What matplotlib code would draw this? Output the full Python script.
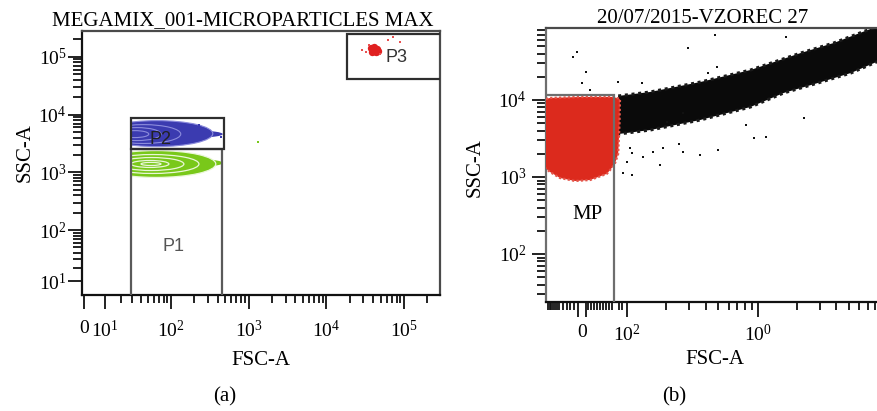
import numpy as np
import matplotlib
matplotlib.use('Agg')
import matplotlib.pyplot as plt
from matplotlib.patches import Ellipse, Rectangle

plt.rcParams['font.family'] = ['Liberation Serif', 'DejaVu Serif']
plt.rcParams['mathtext.fontset'] = 'custom'
plt.rcParams['mathtext.rm'] = 'Liberation Serif'
plt.rcParams['mathtext.it'] = 'Liberation Serif:italic'
plt.rcParams['mathtext.bf'] = 'Liberation Serif:bold'

# ---------------- texts ----------------
title_a = 'MEGAMIX_001-MICROPARTICLES MAX'
title_b = '20/07/2015-VZOREC 27'
x_label = 'FSC-A'
y_label = 'SSC-A'
panel_labels = ['(a)', '(b)']

# ---------------- panel (a) axis data ----------------
a_xlim = [-1, 290000]
a_ylim = [2, 280000]
a_xticks = [0, 10, 100, 1000, 10000, 100000]
a_xticklabels = ['0', r'$\mathregular{10^{1}}$', r'$\mathregular{10^{2}}$',
                 r'$\mathregular{10^{3}}$', r'$\mathregular{10^{4}}$', r'$\mathregular{10^{5}}$']
a_xminor = [m * 10 ** k for k in range(1, 6) for m in range(2, 10)]
a_yticks = [10, 100, 1000, 10000, 100000]
a_yticklabels = [r'$\mathregular{10^{1}}$', r'$\mathregular{10^{2}}$', r'$\mathregular{10^{3}}$',
                 r'$\mathregular{10^{4}}$', r'$\mathregular{10^{5}}$']
a_yminor = [m * 10 ** k for k in range(1, 6) for m in range(2, 10)]

# gates of panel (a)
gate_names_a = ['P1', 'P2', 'P3']
gate_x0_a = [29, 29, 18700]
gate_x1_a = [455, 480, 320000]
gate_y0_a = [1, 2500, 41700]
gate_y1_a = [2500, 8900, 250000]
gate_label_x_a = [109, 72, 80000]
gate_label_y_a = [52, 3650, 99000]

# P2 (blue) contour levels, outer -> inner
p2_ring_x0 = [8, 10.7, 14.8, 20.4]
p2_ring_x1 = [347, 134, 74, 51]
p2_ring_y0 = [2800, 3170, 3560, 4010]
p2_ring_y1 = [7880, 6720, 5970, 5290]
p2_tail_x = [100, 466]
p2_tail_y = [4010, 5290]
p2_dot_x = [60, 123, 230, 402, 439]
p2_dot_y = [6720, 6470, 6720, 4520, 4180]

# P1 (green) contour levels, outer -> inner
p1_ring_x0 = [5.6, 10.7, 18.9, 29, 40]
p1_ring_x1 = [379, 230, 147, 94, 74]
p1_ring_y0 = [820, 960, 1080, 1220, 1320]
p1_ring_y1 = [2390, 2040, 1810, 1610, 1490]
p1_tail_x = [134, 466]
p1_tail_y = [1270, 1676]
p1_dot_x = [1310]
p1_dot_y = [3420]

# P3 (red) beads
p3_core_x = [38000, 41500, 45300, 44000, 39100, 40300, 46700, 42000]
p3_core_y = [143000, 149000, 137000, 122000, 122000, 132000, 127000, 135000]
p3_spread_x = [29100, 32700, 62700, 72700, 89300, 35800, 49500]
p3_spread_y = [132000, 122000, 196000, 221000, 181000, 161000, 113000]

# ---------------- panel (b) axis data ----------------
b_xlim = [-80, 8230]
b_ylim = [23.8, 86000]
b_xticks = [-10, 0, 8, 100, 1000]
b_xticklabels = ['', '0', '', r'$\mathregular{10^{2}}$', r'$\mathregular{10^{0}}$']
b_xminor = [-76, -72, -68, -64, -60, -56, -52, -42, -33, -26, -19,
            14, 20, 27, 33, 40, 47, 53, 60, 67, 82, 89,
            200, 300, 400, 500, 600, 700, 800, 900,
            2000, 3000, 4000, 5000, 6000, 7000, 8000]
b_yticks = [100, 1000, 10000]
b_yticklabels = [r'$\mathregular{10^{2}}$', r'$\mathregular{10^{3}}$', r'$\mathregular{10^{4}}$']
b_yminor = [m * 10 ** k for k in range(1, 5) for m in range(2, 10)]

# MP gate
mp_gate_x = [-120, 71]
mp_gate_y = [1, 11620]
mp_label_x = 13
mp_label_y = 321

# black event band (outline)
band_x = [80, 150, 364, 883, 2140, 3840, 8830,
          8830, 5190, 2895, 1585, 883, 364, 150, 80]
band_y = [11270, 12700, 17100, 24500, 40700, 55000, 94200,
          33000, 22400, 16600, 12330, 8110, 5500, 4070, 3610]

# red gated microparticle cloud (outline)
mp_x = [-90, -71, -4.5, 69, 84, 83, 80, 72, 55, 18, -15.6, -49, -71, -90]
mp_y = [10000, 10620, 10940, 10940, 10300, 5000, 2000, 1450, 1100, 914, 887, 970, 1160, 1430]

# scattered single events
ev_x = [-11, -20, 8.9, 0, 17, 80, 130, 294, 467, 1640, 420, 492, 105, 109, 133, 91, 109,
        179, 158, 189, 270, 364, 501, 809, 931, 1150, 2260, 203, 270, 100, 250]
ev_y = [42000, 36100, 23100, 16600, 13300, 17100, 16600, 47300, 69800, 65800, 22400, 26800,
        2380, 2050, 1820, 1130, 1060, 1430, 2110, 2380, 2110, 1930, 2240, 4730, 3210, 3300,
        5840, 5180, 6780, 1570, 2700]

# ---------------- figure ----------------
W, H = 877, 411
fig = plt.figure(figsize=(W / 100, H / 100), dpi=100)


def px_axes(l, t, r, b):
    return [l / W, 1 - b / H, (r - l) / W, (b - t) / H]


axa = fig.add_axes(px_axes(82, 31, 440, 295))
axb = fig.add_axes(px_axes(546, 28, 877, 302))

LN10 = np.log(10)


def asinh_functions(c):
    def fwd(v):
        return np.arcsinh(np.asarray(v, float) / c) / LN10

    def inv(u):
        return c * np.sinh(np.asarray(u, float) * LN10)
    return fwd, inv


def fwd_b(v):
    v = np.asarray(v, float)
    return np.where(v >= 100, np.log10(np.maximum(v, 100)), 2 + (v - 100) / 289.0)


def inv_b(u):
    u = np.asarray(u, float)
    return np.where(u >= 2, 10 ** np.clip(u, 2, 30), 100 + (u - 2) * 289.0)


axa.set_xscale('function', functions=asinh_functions(15.4))
axa.set_yscale('function', functions=asinh_functions(13.0))
axb.set_xscale('function', functions=(fwd_b, inv_b))
axb.set_yscale('log')

TICK = dict(direction='out', color='#111111', width=1.3)
LABEL_FS = 15
TICK_FS = 14


def ring(ax, x0, x1, y0, y1, fc, ec, lw, clip, z):
    fx = ax.xaxis.get_transform().transform(np.array([x0, x1], float))
    fy = ax.yaxis.get_transform().transform(np.array([y0, y1], float))
    e = Ellipse(((fx[0] + fx[1]) / 2, (fy[0] + fy[1]) / 2), fx[1] - fx[0], fy[1] - fy[0],
                transform=ax.transLimits + ax.transAxes, facecolor=fc, edgecolor=ec,
                linewidth=lw, zorder=z)
    ax.add_patch(e)
    e.set_clip_path(clip)


# ----- panel (a) -----
gate_colors = ['#5a5a5a', '#2e2e2e', '#2e2e2e']
gates = []
for i in range(3):
    r = Rectangle((gate_x0_a[i], gate_y0_a[i]), gate_x1_a[i] - gate_x0_a[i],
                  gate_y1_a[i] - gate_y0_a[i], fill=False, edgecolor=gate_colors[i],
                  linewidth=1.6, zorder=6)
    axa.add_patch(r)
    gates.append(r)

blue = '#3b3bb0'
green = '#79c81a'
# P1 green
ring(axa, p1_tail_x[0], p1_tail_x[1], p1_tail_y[0], p1_tail_y[1], green, 'none', 0, gates[0], 2)
for i in range(len(p1_ring_x0)):
    ring(axa, p1_ring_x0[i], p1_ring_x1[i], p1_ring_y0[i], p1_ring_y1[i],
         green, '#eaf7d8', 0.9, gates[0], 3 + i * 0.1)
axa.scatter(p1_dot_x, p1_dot_y, s=3, color=green, marker='s', linewidths=0, zorder=3)
# P2 blue
ring(axa, p2_tail_x[0], p2_tail_x[1], p2_tail_y[0], p2_tail_y[1], blue, 'none', 0, gates[1], 2)
for i in range(len(p2_ring_x0)):
    ring(axa, p2_ring_x0[i], p2_ring_x1[i], p2_ring_y0[i], p2_ring_y1[i],
         blue, '#8c8cdc', 0.8, gates[1], 3 + i * 0.1)
axa.scatter(p2_dot_x, p2_dot_y, s=3, color=blue, marker='s', linewidths=0, zorder=3)
# P3 red
axa.scatter(p3_core_x, p3_core_y, s=28, color='#e02020', marker='o', linewidths=0, zorder=3)
axa.scatter(p3_spread_x, p3_spread_y, s=3, color='#e85050', marker='s', linewidths=0, zorder=3)

label_colors = ['#555555', '#222222', '#333333']
for i in range(3):
    axa.text(gate_label_x_a[i], gate_label_y_a[i], gate_names_a[i], family='Liberation Sans',
             fontsize=13, color=label_colors[i], ha='center', va='center', zorder=7)

axa.set_xlim(a_xlim)
axa.set_ylim(a_ylim)
axa.set_xticks(a_xticks, a_xticklabels)
axa.set_xticks([v for v in a_xminor if a_xlim[0] < v < a_xlim[1]], minor=True)
axa.set_yticks(a_yticks, a_yticklabels)
axa.set_yticks([v for v in a_yminor if a_ylim[0] < v < a_ylim[1]], minor=True)
axa.xaxis.set_minor_formatter(plt.NullFormatter())
axa.yaxis.set_minor_formatter(plt.NullFormatter())
axa.tick_params(axis='x', which='major', length=10, pad=8, labelsize=TICK_FS, **TICK)
axa.tick_params(axis='x', which='minor', length=6, **TICK)
axa.tick_params(axis='y', which='major', length=10, pad=1, labelsize=TICK_FS, **TICK)
axa.tick_params(axis='y', which='minor', length=6.5, **TICK)
for s in ['left', 'bottom']:
    axa.spines[s].set_color('#111111')
    axa.spines[s].set_linewidth(1.6)
for s in ['top', 'right']:
    axa.spines[s].set_color('#4a4a4a')
    axa.spines[s].set_linewidth(1.6)
axa.set_title(title_a, fontsize=LABEL_FS, x=0.45, pad=4)
axa.set_xlabel(x_label, fontsize=LABEL_FS)
axa.set_ylabel(y_label, fontsize=LABEL_FS)
axa.xaxis.set_label_coords(0.5, -0.212)
axa.yaxis.set_label_coords(-0.131, 0.54)

# ----- panel (b) -----
axb.fill(band_x, band_y, color='#0a0a0a', linewidth=0, zorder=2)
axb.plot(band_x + band_x[:1], band_y + band_y[:1], color='#1a1a1a', linewidth=2.2,
         linestyle=(0, (1, 1.2)), zorder=2)
axb.fill(mp_x, mp_y, color='#dc2a1d', linewidth=0, zorder=3)
axb.plot(mp_x, mp_y, color='#e4554a', linewidth=1.6, linestyle=(0, (1, 1)), zorder=3)
axb.scatter(ev_x, ev_y, s=4, color='#111111', marker='s', linewidths=0, zorder=3)
mp_gate = Rectangle((mp_gate_x[0], mp_gate_y[0]), mp_gate_x[1] - mp_gate_x[0],
                    mp_gate_y[1] - mp_gate_y[0], fill=False, edgecolor='#6e6e6e',
                    linewidth=1.6, zorder=5)
axb.add_patch(mp_gate)
axb.text(mp_label_x, mp_label_y, 'MP', fontsize=LABEL_FS, ha='center', va='center', zorder=6)

axb.set_xlim(b_xlim)
axb.set_ylim(b_ylim)
axb.set_xticks(b_xticks, b_xticklabels)
axb.set_xticks(b_xminor, minor=True)
axb.set_yticks(b_yticks, b_yticklabels)
axb.set_yticks([v for v in b_yminor if b_ylim[0] < v < b_ylim[1]], minor=True)
axb.xaxis.set_minor_formatter(plt.NullFormatter())
axb.yaxis.set_minor_formatter(plt.NullFormatter())
axb.tick_params(axis='x', which='major', length=11, pad=5, labelsize=TICK_FS, **TICK)
axb.tick_params(axis='x', which='minor', length=6, **TICK)
axb.tick_params(axis='y', which='major', length=10, pad=4, labelsize=TICK_FS, **TICK)
axb.tick_params(axis='y', which='minor', length=6.5, **TICK)
axb.xaxis.get_major_ticks()[1].tick1line.set_visible(False)
axb.spines['right'].set_visible(False)
axb.spines['bottom'].set_color('#111111')
axb.spines['left'].set_color('#6e6e6e')
axb.spines['top'].set_color('#4a4a4a')
for s in ['left', 'bottom', 'top']:
    axb.spines[s].set_linewidth(1.6)
axb.set_title(title_b, fontsize=LABEL_FS, x=0.474, pad=3)
axb.set_xlabel(x_label, fontsize=LABEL_FS)
axb.set_ylabel(y_label, fontsize=LABEL_FS)
axb.xaxis.set_label_coords(0.51, -0.175)
axb.yaxis.set_label_coords(-0.184, 0.49)

fig.text(225 / W, 1 - 397 / H, panel_labels[0], fontsize=LABEL_FS, ha='center', va='center')
fig.text(674 / W, 1 - 397 / H, panel_labels[1], fontsize=LABEL_FS, ha='center', va='center')

fig.savefig('out.png', dpi=100)
